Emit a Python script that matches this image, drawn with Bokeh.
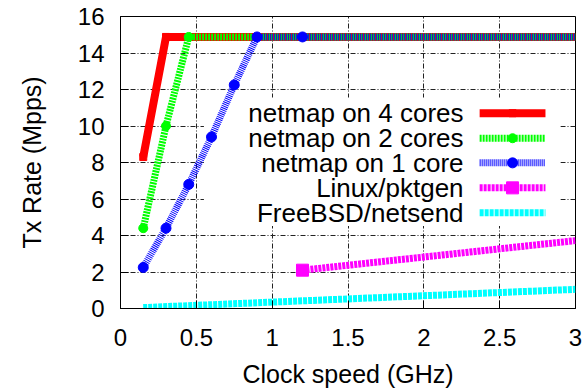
from bokeh.plotting import figure
from bokeh.models import Range1d, FixedTicker, BoxAnnotation
from bokeh.embed import file_html
from bokeh.resources import INLINE
from bokeh.core.properties import value

# ---------------- data ----------------
x_ticks = [0, 0.5, 1, 1.5, 2, 2.5, 3]
x_tick_labels = ["0", "0.5", "1", "1.5", "2", "2.5", "3"]
y_ticks = [0, 2, 4, 6, 8, 10, 12, 14, 16]

clock_4cores = [0.15, 0.3, 3.0]
rate_4cores = [8.3, 14.88, 14.88]

clock_2cores = [0.15, 0.3, 0.45, 3.0]
rate_2cores = [4.4, 10.0, 14.88, 14.88]

clock_1core = [0.15, 0.3, 0.45, 0.6, 0.75, 0.9, 1.2, 3.0]
rate_1core = [2.25, 4.4, 6.8, 9.4, 12.25, 14.88, 14.88, 14.88]

clock_pktgen = [1.2, 3.0]
rate_pktgen = [2.1, 3.72]

clock_netsend = [0.15, 1.2, 3.0]
rate_netsend = [0.05, 0.42, 1.05]

labels = ["netmap on 4 cores", "netmap on 2 cores", "netmap on 1 core",
          "Linux/pktgen", "FreeBSD/netsend"]

# ---------------- styles ----------------
FONT = "Liberation Sans"
styles = [
    dict(color="#ff0000", width=8, dash="solid", marker="square", size=7),
    dict(color="#00ff00", width=7, dash="2 1", marker="circle", size=9),
    dict(color="#0000ff", width=7, dash="1 1", marker="circle", size=10),
    dict(color="#ff00ff", width=7, dash="3 1", marker="square", size=12),
    dict(color="#00ffff", width=7, dash="4 1", marker=None, size=0),
]
series = [
    (clock_4cores, rate_4cores),
    (clock_2cores, rate_2cores),
    (clock_1core, rate_1core),
    (clock_pktgen, rate_pktgen),
    (clock_netsend, rate_netsend),
]

p = figure(width=587, height=390, output_backend="svg", toolbar_location=None,
           x_range=Range1d(0, 3), y_range=Range1d(0, 16),
           min_border_left=120, min_border_right=12, min_border_top=16,
           min_border_bottom=78)
p.background_fill_color = "white"
p.border_fill_color = "white"
p.outline_line_color = "black"
p.outline_line_width = 1

# axes
for ax in (p.xaxis[0], p.yaxis[0]):
    ax.major_tick_in = 8
    ax.major_tick_out = 0
    ax.minor_tick_in = 0
    ax.minor_tick_out = 0
    ax.axis_line_color = "black"
    ax.major_tick_line_color = "black"
    ax.major_label_text_font = FONT
    ax.major_label_text_font_size = "24px"
    ax.major_label_text_color = "black"
    ax.axis_label_text_font = FONT
    ax.axis_label_text_font_size = "25px"
    ax.axis_label_text_font_style = "normal"
    ax.axis_label_text_color = "black"

p.xaxis.ticker = FixedTicker(ticks=x_ticks)
p.xaxis.major_label_overrides = {t: l for t, l in zip(x_ticks, x_tick_labels)}
p.yaxis.ticker = FixedTicker(ticks=y_ticks)
p.xaxis.axis_label = "Clock speed (GHz)"
p.yaxis.axis_label = "Tx Rate (Mpps)"
p.xaxis.major_label_standoff = 20
p.xaxis.axis_label_standoff = 11
p.yaxis.major_label_standoff = 16
p.yaxis.axis_label_standoff = 29

# grid (dash-dot)
for g in (p.xgrid[0], p.ygrid[0]):
    g.grid_line_color = "#222222"
    g.grid_line_dash = "5 2 1 2"
    g.grid_line_width = 1
    g.level = "image"
p.xgrid.ticker = FixedTicker(ticks=x_ticks)
p.ygrid.ticker = FixedTicker(ticks=y_ticks)

# opaque key box (hides grid, below data)
p.add_layout(BoxAnnotation(left=0.55, right=2.9, bottom=4.52, top=11.56,
                           fill_color="white", fill_alpha=1.0,
                           line_color=None, level="underlay"))

# data
for (xs, ys), st in zip(series, styles):
    p.line(xs, ys, line_color=st["color"], line_width=st["width"],
           line_dash=st["dash"], line_cap="butt", line_join="miter")
    if st["marker"]:
        p.scatter(xs[:-1], ys[:-1], marker=st["marker"], size=st["size"],
                  fill_color=st["color"], line_color=st["color"])

# key
key_text_x = 2.262
key_x0, key_x1, key_xm = 2.368, 2.802, 2.585
key_y = [10.70, 9.33, 7.98, 6.61, 5.24]
p.text(x=[key_text_x] * len(labels), y=key_y, text=labels,
       text_align="right", text_baseline="middle",
       text_font=value(FONT), text_font_size="26px", text_color="black")
for yk, st in zip(key_y, styles):
    p.segment(x0=[key_x0], y0=[yk], x1=[key_x1], y1=[yk],
              line_color=st["color"], line_width=st["width"],
              line_dash=st["dash"], line_cap="butt")
    if st["marker"]:
        p.scatter([key_xm], [yk], marker=st["marker"], size=st["size"],
                  fill_color=st["color"], line_color=st["color"])

open("out.html", "w").write(file_html(p, INLINE))
